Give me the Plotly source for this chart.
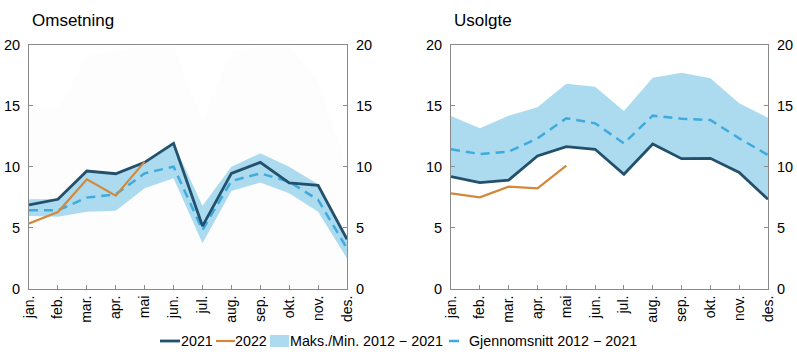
import plotly.graph_objects as go

months = ["jan.", "feb.", "mar.", "apr.", "mai", "jun.", "jul.", "aug.", "sep.", "okt.", "nov.", "des."]

# Omsetning (left)
oms_2021 = [6.9, 7.35, 9.67, 9.45, 10.38, 11.94, 5.16, 9.48, 10.38, 8.69, 8.5, 4.07]
oms_2022 = [5.38, 6.31, 8.99, 7.65, 10.44]
oms_avg = [6.45, 6.45, 7.49, 7.76, 9.48, 10.03, 4.84, 8.85, 9.48, 8.8, 7.3, 3.33]
oms_max = [7.35, 7.38, 9.75, 9.54, 10.44, 11.94, 6.83, 10.03, 11.12, 10.03, 8.58, 4.07]
oms_min = [5.98, 5.93, 6.34, 6.42, 8.25, 9.07, 3.74, 8.03, 8.72, 7.84, 6.34, 2.51]
oms_faint = [14.8, 14.8, 19.1, 19.5, 19.9, 19.9, 13.8, 19.5, 19.9, 19.9, 17.0, 10.0]

# Usolgte (right)
uso_2021 = [9.21, 8.72, 8.93, 10.9, 11.67, 11.45, 9.4, 11.89, 10.68, 10.71, 9.56, 7.35]
uso_2022 = [7.84, 7.51, 8.39, 8.25, 10.11]
uso_avg = [11.45, 11.07, 11.26, 12.35, 13.99, 13.58, 11.94, 14.21, 13.96, 13.85, 12.35, 10.98]
uso_max = [14.18, 13.17, 14.2, 14.9, 16.83, 16.58, 14.59, 17.32, 17.73, 17.27, 15.22, 14.04]
uso_min = [9.21, 8.72, 8.93, 10.9, 11.67, 11.45, 9.4, 11.89, 10.68, 10.71, 9.56, 7.35]

legend_names = ["2021", "2022", "Maks./Min. 2012 − 2021", "Gjennomsnitt 2012 − 2021"]
panel_titles = ["Omsetning", "Usolgte"]

C2021 = "#22506d"
C2022 = "#d4883a"
CBAND = "#acdbef"
CAVG = "#3eaadd"
FONT = "Liberation Sans, Arial, sans-serif"
W, H = 797, 356

x = list(range(12))
fig = go.Figure()

def add_panel(xa, ya, faint, mn, mx, avg, y21, y22):
    if faint is not None:
        fig.add_trace(go.Scatter(x=x, y=[0]*12, mode="lines", line=dict(width=0), xaxis=xa, yaxis=ya,
                                 showlegend=False, hoverinfo="skip"))
        fig.add_trace(go.Scatter(x=x, y=faint, mode="lines", line=dict(width=0), fill="tonexty",
                                 fillcolor="#fdfdfd", xaxis=xa, yaxis=ya, showlegend=False, hoverinfo="skip"))
    fig.add_trace(go.Scatter(x=x, y=mn, mode="lines", line=dict(width=0), xaxis=xa, yaxis=ya,
                             showlegend=False, hoverinfo="skip"))
    fig.add_trace(go.Scatter(x=x, y=mx, mode="lines", line=dict(width=0), fill="tonexty",
                             fillcolor=CBAND, xaxis=xa, yaxis=ya, name=legend_names[2], showlegend=False))
    fig.add_trace(go.Scatter(x=x, y=avg, mode="lines", line=dict(color=CAVG, width=2.5, dash="9px,6px"),
                             xaxis=xa, yaxis=ya, name=legend_names[3], showlegend=False))
    fig.add_trace(go.Scatter(x=x, y=y21, mode="lines", line=dict(color=C2021, width=2.8),
                             xaxis=xa, yaxis=ya, name=legend_names[0], showlegend=False))
    fig.add_trace(go.Scatter(x=x[:len(y22)], y=y22, mode="lines", line=dict(color=C2022, width=2.2),
                             xaxis=xa, yaxis=ya, name=legend_names[1], showlegend=False))

add_panel("x", "y", oms_faint, oms_min, oms_max, oms_avg, oms_2021, oms_2022)
add_panel("x2", "y3", None, uso_min, uso_max, uso_avg, uso_2021, uso_2022)

# invisible traces to activate right-side axes
fig.add_trace(go.Scatter(x=[0], y=[0], xaxis="x", yaxis="y2", mode="markers", marker=dict(opacity=0),
                         showlegend=False, hoverinfo="skip"))
fig.add_trace(go.Scatter(x=[0], y=[0], xaxis="x2", yaxis="y4", mode="markers", marker=dict(opacity=0),
                         showlegend=False, hoverinfo="skip"))

ydom = [0.1882, 0.8736]
axline = dict(showline=True, linecolor="#8a8a8a", linewidth=1, ticks="inside", ticklen=4,
              tickcolor="#8a8a8a", showgrid=False, zeroline=False, automargin=False)
xcommon = dict(range=[0, 11], tickvals=x, ticktext=months, tickangle=-90,
               tickfont=dict(size=14, color="#000", family=FONT), mirror=True, **axline)
ycommon = dict(range=[0, 20], tickvals=[0, 5, 10, 15, 20], tickfont=dict(size=14.5, color="#000", family=FONT),
               ticklabelstandoff=5, **axline)

def px(v):
    return v / W

def py(v):
    return 1 - v / H

LY = 341
shapes = [
    dict(type="line", xref="paper", yref="paper", x0=px(160), x1=px(180), y0=py(LY), y1=py(LY),
         line=dict(color=C2021, width=2.8)),
    dict(type="line", xref="paper", yref="paper", x0=px(216), x1=px(235), y0=py(LY), y1=py(LY),
         line=dict(color=C2022, width=2.2)),
    dict(type="rect", xref="paper", yref="paper", x0=px(270), x1=px(289), y0=py(347), y1=py(335),
         line=dict(width=0), fillcolor=CBAND),
    dict(type="line", xref="paper", yref="paper", x0=px(449), x1=px(459), y0=py(LY), y1=py(LY),
         line=dict(color=CAVG, width=2.5)),
]
leg_text_x = [179, 233, 288, 467]
annotations = []
for title, xa in zip(panel_titles, ["x domain", "x2 domain"]):
    annotations.append(dict(text=title, x=0, xshift=1, y=py(20), xref=xa, yref="paper", xanchor="left",
                            align="left", width=130, yanchor="middle", showarrow=False,
                            font=dict(size=17, family=FONT, color="#000")))
for name, tx in zip(legend_names, leg_text_x):
    annotations.append(dict(text=name, x=px(tx), y=py(LY), xref="paper", yref="paper", xanchor="left",
                            align="left", yanchor="middle", showarrow=False,
                            font=dict(size=14.3, family=FONT, color="#000")))

fig.update_layout(
    width=W, height=H,
    margin=dict(l=0, r=0, t=0, b=0),
    paper_bgcolor="white", plot_bgcolor="white",
    font=dict(family=FONT, size=13, color="#000"),
    xaxis=dict(domain=[0.0364, 0.4354], anchor="y", **xcommon),
    xaxis2=dict(domain=[0.5659, 0.9636], anchor="y3", **xcommon),
    yaxis=dict(domain=ydom, anchor="x", side="left", **ycommon),
    yaxis2=dict(overlaying="y", anchor="x", side="right", **ycommon),
    yaxis3=dict(domain=ydom, anchor="x2", side="left", **ycommon),
    yaxis4=dict(overlaying="y3", anchor="x2", side="right", **ycommon),
    showlegend=False,
    shapes=shapes,
    annotations=annotations,
)

fig.write_html("out.html", config={"displayModeBar": False},
               post_script="document.body.style.margin='0';document.body.style.padding='0';")
